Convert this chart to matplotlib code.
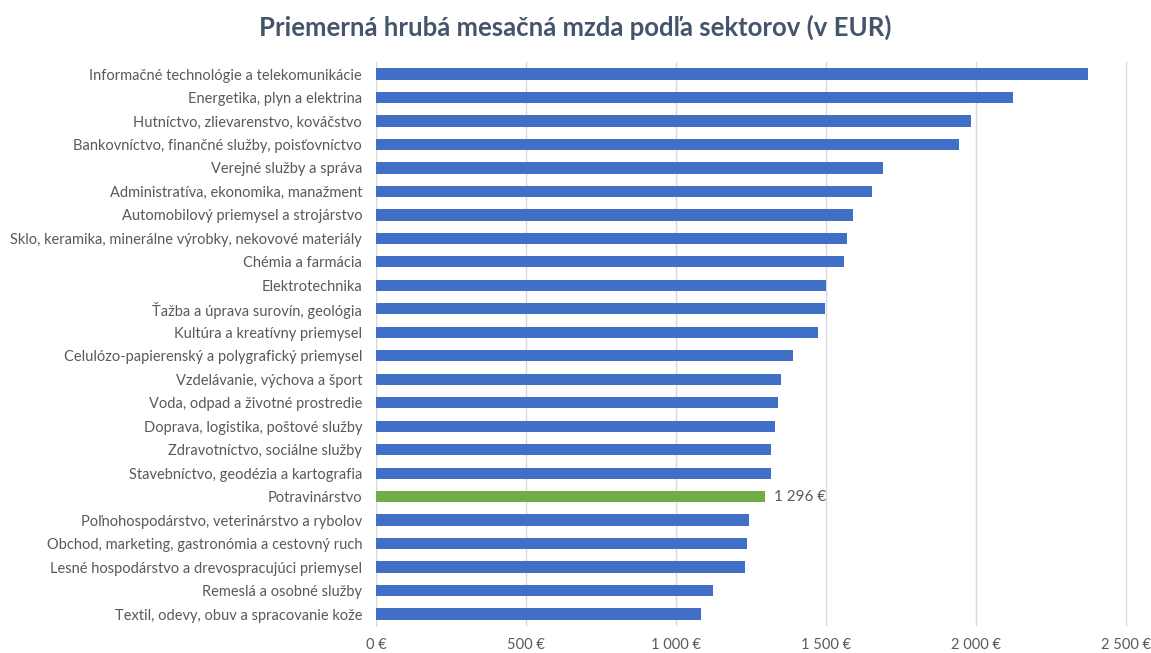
import matplotlib.pyplot as plt
from matplotlib.ticker import FuncFormatter

## Data

sectors = [
    "Informačné technológie a telekomunikácie",
    "Energetika, plyn a elektrina",
    "Hutníctvo, zlievarenstvo, kováčstvo",
    "Bankovníctvo, finančné služby, poisťovníctvo",
    "Verejné služby a správa",
    "Administratíva, ekonomika, manažment",
    "Automobilový priemysel a strojárstvo",
    "Sklo, keramika, minerálne výrobky, nekovové materiály",
    "Chémia a farmácia",
    "Elektrotechnika",
    "Ťažba a úprava surovín, geológia",
    "Kultúra a kreatívny priemysel",
    "Celulózo-papierenský a polygrafický priemysel",
    "Vzdelávanie, výchova a šport",
    "Voda, odpad a životné prostredie",
    "Doprava, logistika, poštové služby",
    "Zdravotníctvo, sociálne služby",
    "Stavebníctvo, geodézia a kartografia",
    "Potravinárstvo",
    "Poľnohospodárstvo, veterinárstvo a rybolov",
    "Obchod, marketing, gastronómia a cestovný ruch",
    "Lesné hospodárstvo a drevospracujúci priemysel",
    "Remeslá a osobné služby",
    "Textil, odevy, obuv a spracovanie kože",
]
wages = [2373, 2122, 1985, 1942, 1689, 1654, 1589, 1570, 1559, 1500, 1497, 1474,
         1390, 1351, 1340, 1331, 1317, 1317, 1296, 1244, 1237, 1231, 1123, 1082]
highlight = "Potravinárstvo"
x_ticks = [0, 500, 1000, 1500, 2000, 2500]

## Figure setup

plt.rcParams['font.family'] = ['Lato', 'DejaVu Sans']
fig = plt.figure(figsize=(11.51, 6.53), dpi=100)
ax = fig.add_axes([0.3267, 0.0417, 0.9913 - 0.3267, 0.9046 - 0.0417])

blue = '#3F6FC6'
green = '#70AD47'
colors = [green if s == highlight else blue for s in sectors]
ypos = list(range(len(sectors)))

ax.barh(ypos, wages, height=0.48, color=colors, zorder=3)
ax.set_ylim(len(sectors) - 0.5, -0.5)
ax.set_xlim(0, 2550)
ax.set_yticks(ypos)
ax.set_yticklabels(sectors, fontsize=10.5, color='#595959')
ax.set_xticks(x_ticks)
ax.xaxis.set_major_formatter(FuncFormatter(lambda v, p: f"{int(v):,} €".replace(",", " ")))
ax.tick_params(axis='x', labelsize=10.5, labelcolor='#595959', length=0, pad=9)
ax.tick_params(axis='y', length=0, pad=10)

ax.grid(axis='x', color='#D9D9D9', linewidth=1, zorder=0)
for s in ['top', 'right', 'bottom']:
    ax.spines[s].set_visible(False)
ax.spines['left'].set_color('#D9D9D9')

# value label on highlighted bar
i = sectors.index(highlight)
ax.text(wages[i] + 30, i, f"{wages[i]:,} €".replace(",", " "), va='center', ha='left',
        fontsize=11, color='#595959')

fig.text(0.5, 0.958, "Priemerná hrubá mesačná mzda podľa sektorov (v EUR)", ha='center', va='center',
         fontsize=18.5, fontweight='bold', color='#44546A')

fig.savefig('out.png', dpi=100)
